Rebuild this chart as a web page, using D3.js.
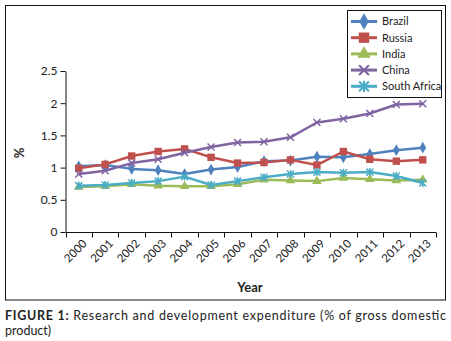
<!DOCTYPE html>
<html>
<head>
<meta charset="utf-8">
<script src="https://d3js.org/d3.v7.min.js"></script>
<style>
  body { margin: 0; background: #fff; }
  text { font-family: Lato, "Open Sans", sans-serif; fill: #222; }
</style>
</head>
<body>
<script>
// data
const years = ["2000","2001","2002","2003","2004","2005","2006","2007","2008","2009","2010","2011","2012","2013"];
const brazil      = [1.02,1.04,0.98,0.96,0.90,0.97,1.01,1.10,1.11,1.17,1.16,1.21,1.27,1.31];
const russia      = [0.99,1.05,1.18,1.25,1.29,1.16,1.07,1.08,1.12,1.04,1.25,1.13,1.10,1.12];
const india       = [0.70,0.71,0.74,0.72,0.71,0.71,0.74,0.81,0.80,0.79,0.84,0.82,0.80,0.81];
const china       = [0.90,0.95,1.07,1.13,1.23,1.32,1.39,1.40,1.47,1.70,1.76,1.84,1.98,1.99];
const southAfrica = [0.72,0.73,0.76,0.79,0.86,0.73,0.79,0.85,0.90,0.93,0.92,0.93,0.87,0.76];
const yTicks = [0, 0.5, 1, 1.5, 2, 2.5];

const series = [
  {name: "Brazil", values: brazil, color: "#4f81bd", marker: "diamond"},
  {name: "Russia", values: russia, color: "#c0504d", marker: "square"},
  {name: "India", values: india, color: "#9bbb59", marker: "triangle"},
  {name: "China", values: china, color: "#8064a2", marker: "x"},
  {name: "South Africa", values: southAfrica, color: "#4bacc6", marker: "star"}
];

const width = 451, height = 341;
const svg = d3.select("body").append("svg")
  .attr("width", width).attr("height", height);

// outer frame
svg.append("rect")
  .attr("x", 5.5).attr("y", 5.5)
  .attr("width", 440).attr("height", 294.5)
  .attr("fill", "none").attr("stroke", "#111").attr("stroke-width", 1);

const x = d3.scaleBand().domain(years).range([65.5, 436]);
const y = d3.scaleLinear().domain([0, 2.5]).range([232, 71]);

// y axis
const yAxis = svg.append("g").attr("transform", "translate(65.5,0)")
  .call(d3.axisLeft(y).tickValues(yTicks).tickFormat(d => d).tickSize(5).tickSizeOuter(0));
yAxis.select(".domain").attr("stroke", "#111");
yAxis.selectAll(".tick line").attr("stroke", "#111");
yAxis.selectAll("text").attr("font-size", 12).attr("x", -8).style("font-family", "Lato, sans-serif").attr("fill", "#222");

// x axis (ticks between categories)
const xg = svg.append("g").attr("transform", "translate(0,232.5)");
xg.append("line").attr("x1", 65.5).attr("x2", 436).attr("stroke", "#111");
const edges = years.map(d => x(d)).concat([x.range()[1]]);
xg.selectAll("line.tk").data(edges).join("line").attr("class", "tk")
  .attr("x1", d => Math.round(d) + 0.5).attr("x2", d => Math.round(d) + 0.5)
  .attr("y1", 0).attr("y2", 5).attr("stroke", "#111");
xg.selectAll("text").data(years).join("text")
  .attr("transform", d => `translate(${x(d) + x.bandwidth() / 2 + 6},${9}) rotate(-45)`)
  .attr("text-anchor", "end")
  .attr("dy", "0.35em")
  .attr("font-size", 11.5)
  .text(d => d);

// axis titles
svg.append("text").attr("x", 250).attr("y", 292)
  .attr("text-anchor", "middle").attr("font-weight", "bold").attr("font-size", 13)
  .text("Year");
svg.append("text").attr("transform", "translate(24,153) rotate(-90)")
  .attr("text-anchor", "middle").attr("font-weight", "bold").attr("font-size", 13)
  .text("%");

// marker shapes
function markerPath(type, s) {
  if (type === "diamond") return d3.symbol(d3.symbolDiamond, 40)();
  if (type === "square") return d3.symbol(d3.symbolSquare, 55)();
  if (type === "triangle") return d3.symbol(d3.symbolTriangle, 40)();
  if (type === "x") return "M-3.5,-3.5L3.5,3.5M-3.5,3.5L3.5,-3.5";
  return "M-3.5,-3.5L3.5,3.5M-3.5,3.5L3.5,-3.5M0,-4L0,4";
}

const line = d3.line()
  .x((d, i) => x(years[i]) + x.bandwidth() / 2)
  .y(d => y(d));

series.forEach(s => {
  const g = svg.append("g");
  g.append("path").datum(s.values)
    .attr("d", line).attr("fill", "none")
    .attr("stroke", s.color).attr("stroke-width", 2.5)
    .attr("stroke-linejoin", "round");
  const isLine = s.marker === "x" || s.marker === "star";
  g.selectAll("path.m").data(s.values).join("path").attr("class", "m")
    .attr("transform", (d, i) => `translate(${x(years[i]) + x.bandwidth() / 2},${y(d)})`)
    .attr("d", markerPath(s.marker))
    .attr("fill", isLine ? "none" : s.color)
    .attr("stroke", s.color)
    .attr("stroke-width", isLine ? 1.5 : 0);
});

// legend
const lg = svg.append("g");
lg.append("rect").attr("x", 347.5).attr("y", 10.5).attr("width", 94).attr("height", 87)
  .attr("fill", "#fff").attr("stroke", "#111").attr("stroke-width", 1);
series.forEach((s, i) => {
  const ly = 21.5 + i * 16.2;
  lg.append("line").attr("x1", 351).attr("x2", 377).attr("y1", ly).attr("y2", ly)
    .attr("stroke", s.color).attr("stroke-width", 3);
  const isLine = s.marker === "x" || s.marker === "star";
  lg.append("path").attr("transform", `translate(364,${ly}) scale(1.4)`)
    .attr("d", markerPath(s.marker))
    .attr("fill", isLine ? "none" : s.color)
    .attr("stroke", s.color).attr("stroke-width", isLine ? 1.5 : 0);
  lg.append("text").attr("x", 382).attr("y", ly).attr("dy", "0.35em")
    .attr("font-size", 11).text(s.name);
});

// caption
const cap = svg.append("text").attr("x", 5).attr("y", 320)
  .attr("font-size", 12.5).attr("textLength", 441).attr("lengthAdjust", "spacing");
cap.append("tspan").attr("font-weight", "bold").text("FIGURE 1:");
cap.append("tspan").text(" Research and development expenditure (% of gross domestic");
svg.append("text").attr("x", 5).attr("y", 335).attr("font-size", 12.5).text("product)");
</script>
</body>
</html>
